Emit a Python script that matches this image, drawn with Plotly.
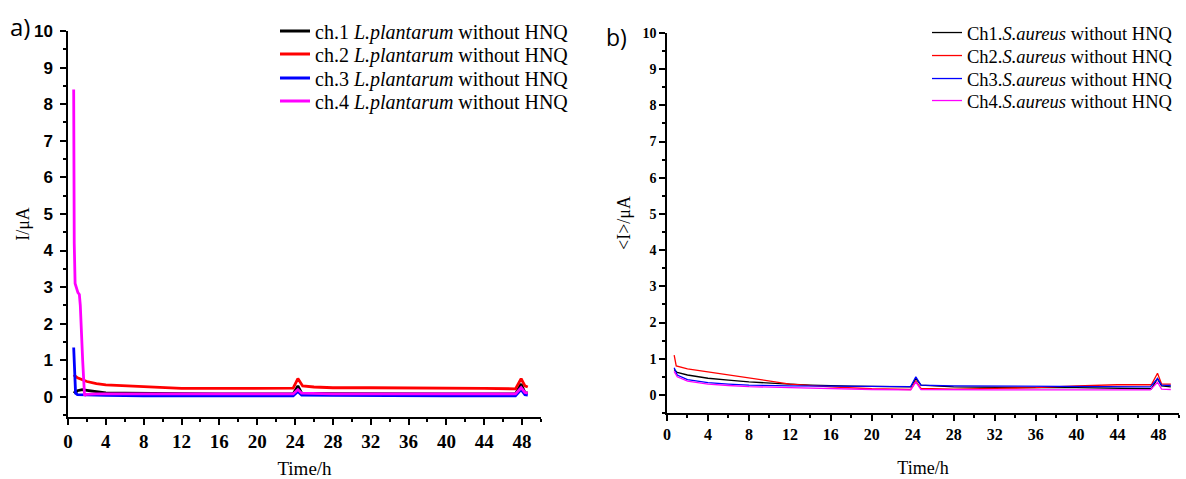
import plotly.graph_objects as go

# ---------------- Data: panel a (L.plantarum) ----------------
a1_t = [0.6, 0.8, 1.0, 1.5, 2.0, 3.0, 4.0, 6.0, 8.0, 12.0, 16.0, 20.0, 23.8, 24.3, 24.7, 28.0, 32.0, 36.0, 40.0, 44.0, 47.3, 47.9, 48.3, 48.6]
a1_v = [0.15, 0.12, 0.17, 0.2, 0.18, 0.14, 0.11, 0.1, 0.09, 0.09, 0.08, 0.08, 0.08, 0.3, 0.1, 0.09, 0.08, 0.08, 0.08, 0.08, 0.08, 0.35, 0.12, 0.1]

a2_t = [0.6, 1.0, 2.0, 3.0, 4.0, 6.0, 8.0, 10.0, 12.0, 16.0, 20.0, 23.8, 24.3, 24.8, 26.0, 28.0, 32.0, 36.0, 40.0, 44.0, 47.3, 47.9, 48.3, 48.6]
a2_v = [0.6, 0.52, 0.42, 0.36, 0.33, 0.3, 0.27, 0.24, 0.23, 0.23, 0.24, 0.24, 0.5, 0.3, 0.27, 0.25, 0.25, 0.25, 0.24, 0.23, 0.22, 0.5, 0.3, 0.27]

a3_t = [0.6, 0.7, 0.8, 1.0, 2.0, 4.0, 8.0, 12.0, 16.0, 20.0, 23.8, 24.3, 24.7, 28.0, 32.0, 36.0, 40.0, 44.0, 47.3, 47.9, 48.3, 48.6]
a3_v = [1.35, 0.4, 0.1, 0.06, 0.05, 0.04, 0.03, 0.03, 0.03, 0.03, 0.03, 0.15, 0.05, 0.04, 0.03, 0.03, 0.03, 0.03, 0.03, 0.2, 0.06, 0.05]

a4_t = [0.6, 0.62, 0.66, 0.75, 0.9, 1.05, 1.2, 1.3, 1.55, 1.75, 1.9, 3.0, 6.0, 12.0, 20.0, 23.8, 24.3, 24.7, 28.0, 36.0, 44.0, 47.3, 47.9, 48.3, 48.6]
a4_v = [8.4, 6.0, 4.2, 3.1, 2.95, 2.85, 2.8, 2.5, 1.0, 0.03, 0.07, 0.08, 0.08, 0.08, 0.08, 0.08, 0.2, 0.1, 0.08, 0.08, 0.08, 0.08, 0.25, 0.12, 0.1]

# ---------------- Data: panel b (S.aureus) ----------------
b1_t = [0.7, 1.0, 2.0, 3.0, 4.0, 6.0, 8.0, 11.0, 14.0, 18.0, 23.8, 24.3, 24.8, 28.0, 32.0, 36.0, 40.0, 44.0, 47.3, 47.9, 48.3, 49.2]
b1_v = [0.7, 0.62, 0.55, 0.5, 0.46, 0.41, 0.36, 0.31, 0.27, 0.24, 0.22, 0.45, 0.27, 0.22, 0.2, 0.2, 0.2, 0.18, 0.17, 0.45, 0.25, 0.22]

b2_t = [0.7, 0.9, 2.0, 4.0, 6.0, 8.0, 10.0, 12.0, 16.0, 20.0, 23.8, 24.3, 24.8, 28.0, 32.0, 36.0, 40.0, 44.0, 47.3, 47.9, 48.3, 49.2]
b2_v = [1.1, 0.8, 0.72, 0.64, 0.55, 0.47, 0.38, 0.3, 0.22, 0.17, 0.15, 0.38, 0.18, 0.16, 0.18, 0.2, 0.25, 0.28, 0.28, 0.6, 0.3, 0.3]

b3_t = [0.7, 1.0, 2.0, 4.0, 6.0, 8.0, 12.0, 16.0, 20.0, 23.8, 24.3, 24.8, 28.0, 32.0, 36.0, 40.0, 44.0, 47.2, 47.9, 48.3, 49.2]
b3_v = [0.75, 0.55, 0.42, 0.34, 0.3, 0.27, 0.25, 0.24, 0.23, 0.23, 0.5, 0.27, 0.25, 0.24, 0.24, 0.24, 0.23, 0.22, 0.45, 0.27, 0.26]

b4_t = [0.7, 1.0, 2.0, 4.0, 6.0, 8.0, 12.0, 16.0, 20.0, 23.8, 24.3, 24.8, 28.0, 32.0, 36.0, 40.0, 44.0, 47.2, 47.9, 48.3, 49.2]
b4_v = [0.65, 0.5, 0.38, 0.3, 0.26, 0.23, 0.2, 0.17, 0.15, 0.14, 0.35, 0.15, 0.14, 0.14, 0.14, 0.14, 0.14, 0.14, 0.35, 0.16, 0.15]

names_a = ["ch.1 <i>L.plantarum</i> without HNQ", "ch.2 <i>L.plantarum</i> without HNQ",
           "ch.3 <i>L.plantarum</i> without HNQ", "ch.4 <i>L.plantarum</i> without HNQ"]
names_b = ["Ch1.<i>S.aureus</i> without HNQ", "Ch2.<i>S.aureus</i> without HNQ",
           "Ch3.<i>S.aureus</i> without HNQ", "Ch4.<i>S.aureus</i> without HNQ"]
colors = ["#000000", "#ff0000", "#0000ff", "#ff00ff"]

x_ticks = list(range(0, 49, 4))
y_ticks = list(range(0, 11))

W, H = 1186, 479
fig = go.Figure()

series_a = [(a1_t, a1_v), (a2_t, a2_v), (a3_t, a3_v), (a4_t, a4_v)]
series_b = [(b1_t, b1_v), (b2_t, b2_v), (b3_t, b3_v), (b4_t, b4_v)]

serif = "Liberation Serif, Times New Roman, serif"
sans = "Liberation Sans, Arial, sans-serif"

legend_layout = {}
rows_a = [31, 54, 78, 101]
rows_b = [33, 56, 79, 101]
for i, ((t, v), n, c) in enumerate(zip(series_a, names_a, colors)):
    key = "legend" if i == 0 else f"legend{i+1}"
    fig.add_trace(go.Scatter(x=t, y=v, mode="lines", name=n, line=dict(color=c, width=2.8),
                             xaxis="x", yaxis="y", legend=key))
    legend_layout[key] = dict(x=275/W, y=1-rows_a[i]/H, xanchor="left", yanchor="middle",
                              font=dict(family=serif, size=20, color="black"),
                              bgcolor="rgba(0,0,0,0)", borderwidth=0, itemwidth=30)
for i, ((t, v), n, c) in enumerate(zip(series_b, names_b, colors)):
    key = f"legend{i+5}"
    fig.add_trace(go.Scatter(x=t, y=v, mode="lines", name=n, line=dict(color=c, width=1.3),
                             xaxis="x2", yaxis="y2", legend=key))
    legend_layout[key] = dict(x=927/W, y=1-rows_b[i]/H, xanchor="left", yanchor="middle",
                              font=dict(family=serif, size=18.5, color="black"),
                              bgcolor="rgba(0,0,0,0)", borderwidth=0, itemwidth=30)

axis_common = dict(showline=True, linecolor="black", linewidth=1.5, ticks="outside",
                   tickcolor="black", tickwidth=1.5, ticklen=6, showgrid=False, zeroline=False,
                   mirror=False, automargin=False)

fig.update_layout(
    width=W, height=H,
    margin=dict(l=0, r=0, t=0, b=0, autoexpand=False),
    paper_bgcolor="white", plot_bgcolor="white",
    xaxis=dict(**axis_common, domain=[68/W, 541/W], range=[0, 50], tickvals=x_ticks,
               minor=dict(dtick=2, tick0=0, ticks="outside", ticklen=3, tickcolor="black", tickwidth=1.5),
               tickfont=dict(family=serif, size=19, color="black", weight="bold"),
               title=dict(text="Time/h", font=dict(family=serif, size=19, color="black"), standoff=23),
               anchor="y"),
    yaxis=dict(**axis_common, domain=[1-417/H, 1-31/H], range=[-0.55, 10], tickvals=y_ticks,
               minor=dict(dtick=0.5, tick0=0, ticks="outside", ticklen=3, tickcolor="black", tickwidth=1.5),
               tickfont=dict(family=sans, size=17, color="black", weight="bold"),
               ticklabelstandoff=4,
               title=dict(text="I/μA", font=dict(family=serif, size=18, color="black"), standoff=0),
               anchor="x"),
    xaxis2=dict(**axis_common, domain=[667/W, 1179/W], range=[0, 50], tickvals=x_ticks,
                minor=dict(dtick=2, tick0=0, ticks="outside", ticklen=3, tickcolor="black", tickwidth=1.5),
                tickfont=dict(family=serif, size=16, color="black", weight="bold"),
                title=dict(text="Time/h", font=dict(family=serif, size=18, color="black"), standoff=19),
                anchor="y2"),
    yaxis2=dict(**axis_common, domain=[1-413/H, 1-33/H], range=[-0.5, 10], tickvals=y_ticks,
                minor=dict(dtick=0.5, tick0=0, ticks="outside", ticklen=3, tickcolor="black", tickwidth=1.5),
                tickfont=dict(family=serif, size=14, color="black", weight="bold"),
                title=dict(text="&lt;I&gt;/μA", font=dict(family=serif, size=18, color="black"), standoff=7),
                anchor="x2"),
    showlegend=True,
    annotations=[
        dict(text="a)", x=8/W, y=1-26/H, xref="paper", yref="paper", xanchor="left",
             yanchor="middle", showarrow=False, font=dict(family="Open Sans, sans-serif", size=24, color="black")),
        dict(text="b)", x=604/W, y=1-37/H, xref="paper", yref="paper", xanchor="left",
             yanchor="middle", showarrow=False, font=dict(family="Open Sans, sans-serif", size=23, color="black")),
    ],
    **legend_layout,
)

fig.write_html("out.html")
